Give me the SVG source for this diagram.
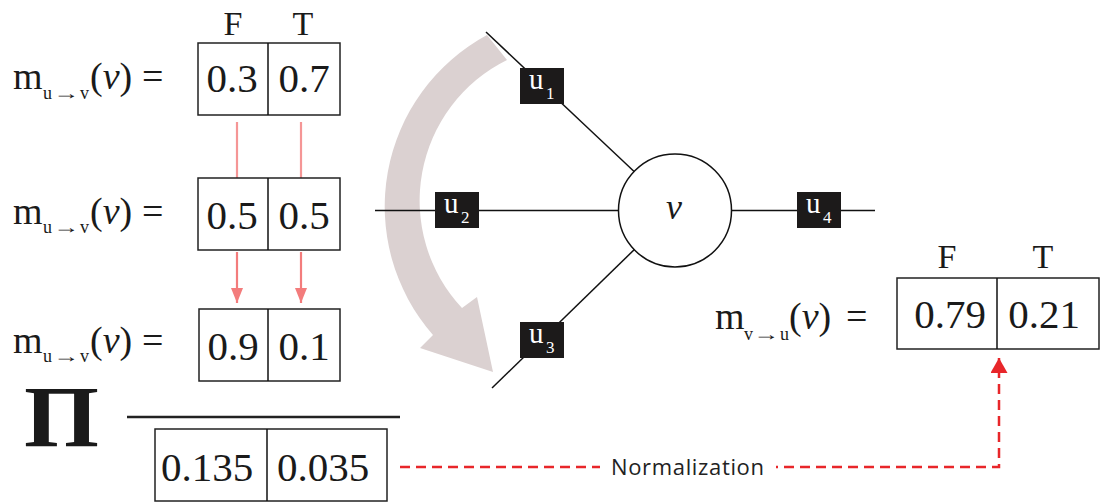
<svg xmlns="http://www.w3.org/2000/svg" width="1104" height="504" viewBox="0 0 1104 504">
<style>
.serif{font-family:"Liberation Serif","Times New Roman",serif;fill:#1a1a1a}
.lbl{font-size:38px}
.sub{font-size:18px}
.num{font-size:41px;text-anchor:middle}
.ft{font-size:34px;text-anchor:middle}
.box{fill:#fff;stroke:#222;stroke-width:1.5}
.edge{stroke:#111;stroke-width:1.5;fill:none}
.fac{fill:#1c1a1a}
.fl{font-family:"Liberation Serif","Times New Roman",serif;fill:#fff;font-size:29px}
.fls{font-size:17px}
.pink{stroke:#f37c7c;stroke-width:2.2;fill:none}
.dash{stroke:#e8262a;stroke-width:2.5;fill:none;stroke-dasharray:10 6}
</style>
<defs>
<marker id="ap" viewBox="0 0 15 12" refX="15" refY="6" markerWidth="15" markerHeight="12" markerUnits="userSpaceOnUse" orient="auto"><path d="M0,0 L15,6 L0,12 Z" fill="#f37c7c"/></marker>
<marker id="ar" viewBox="0 0 15 17" refX="15" refY="8.5" markerWidth="15" markerHeight="17" markerUnits="userSpaceOnUse" orient="auto"><path d="M0,0 L15,8.5 L0,17 Z" fill="#e8262a"/></marker>
</defs>
<rect width="1104" height="504" fill="#fff"/>

<!-- big curved grey arrow -->
<path id="flow-arrow" d="M487,35 A195,195 0 0 0 433,335 L420,348 L493,372 L477,297 L462,308 A157,157 0 0 1 507,60 Z" fill="#dbd1d1"/>

<g id="connectors">
<line class="edge" x1="375" y1="210.5" x2="875" y2="210.5"/>
<line class="edge" x1="486" y1="32" x2="675" y2="210"/>
<line class="edge" x1="492" y1="388" x2="675" y2="210"/>
<line class="pink" x1="237" y1="122" x2="237" y2="178" stroke-opacity="0.8"/>
<line class="pink" x1="301" y1="122" x2="301" y2="178" stroke-opacity="0.8"/>
<line class="pink" x1="237" y1="252" x2="237" y2="303" marker-end="url(#ap)"/>
<line class="pink" x1="301" y1="252" x2="301" y2="303" marker-end="url(#ap)"/>
<path class="dash" d="M400,467 H999 V358" marker-end="url(#ar)"/>
</g>

<g id="node-v">
<circle cx="675" cy="210.5" r="56.5" fill="#fff" stroke="#111" stroke-width="1.5"/>
<text class="serif" x="674" y="219" font-size="36" font-style="italic" text-anchor="middle">v</text>
</g>
<g id="node-u1"><rect class="fac" x="520" y="68" width="44" height="36"/><text class="fl" x="529" y="89">u<tspan class="fls" x="546" y="99">1</tspan></text></g>
<g id="node-u2"><rect class="fac" x="435" y="192" width="44" height="36"/><text class="fl" x="444" y="213">u<tspan class="fls" x="461" y="223">2</tspan></text></g>
<g id="node-u3"><rect class="fac" x="520" y="322" width="44" height="36"/><text class="fl" x="529" y="343">u<tspan class="fls" x="546" y="353">3</tspan></text></g>
<g id="node-u4"><rect class="fac" x="797" y="192" width="44" height="36"/><text class="fl" x="806" y="213">u<tspan class="fls" x="823" y="223">4</tspan></text></g>

<g id="msg1">
<text class="serif lbl" x="13" y="89">m<tspan class="sub" x="43" y="99">u</tspan><tspan class="sub" x="53" textLength="26" lengthAdjust="spacingAndGlyphs">→</tspan><tspan class="sub" x="80">v</tspan><tspan x="90" y="89">(</tspan><tspan font-style="italic">v</tspan>)<tspan x="142">=</tspan></text>
<text class="serif ft" x="233" y="35">F</text>
<text class="serif ft" x="303" y="35">T</text>
<rect class="box" x="198" y="43" width="142" height="72"/>
<line class="edge" x1="268" y1="43" x2="268" y2="115"/>
<text class="serif num" x="232" y="92">0.3</text>
<text class="serif num" x="304" y="92">0.7</text>
</g>

<g id="msg2">
<text class="serif lbl" x="13" y="224">m<tspan class="sub" x="43" y="233">u</tspan><tspan class="sub" x="53" textLength="26" lengthAdjust="spacingAndGlyphs">→</tspan><tspan class="sub" x="80">v</tspan><tspan x="90" y="224">(</tspan><tspan font-style="italic">v</tspan>)<tspan x="142">=</tspan></text>
<rect class="box" x="198" y="178" width="142" height="72"/>
<line class="edge" x1="268" y1="178" x2="268" y2="250"/>
<text class="serif num" x="232" y="229">0.5</text>
<text class="serif num" x="304" y="229">0.5</text>
</g>

<g id="msg3">
<text class="serif lbl" x="13" y="353">m<tspan class="sub" x="43" y="362">u</tspan><tspan class="sub" x="53" textLength="26" lengthAdjust="spacingAndGlyphs">→</tspan><tspan class="sub" x="80">v</tspan><tspan x="90" y="353">(</tspan><tspan font-style="italic">v</tspan>)<tspan x="142">=</tspan></text>
<rect class="box" x="199" y="309" width="141" height="72"/>
<line class="edge" x1="268" y1="309" x2="268" y2="381"/>
<text class="serif num" x="233" y="360">0.9</text>
<text class="serif num" x="304" y="360">0.1</text>
</g>

<g id="product">
<text class="serif" x="24" y="446" font-size="86" font-weight="bold" textLength="75" lengthAdjust="spacingAndGlyphs">Π</text>
<line x1="127" y1="417" x2="400" y2="417" stroke="#222" stroke-width="2.5"/>
<rect class="box" x="155" y="429" width="232" height="72"/>
<line class="edge" x1="267" y1="429" x2="267" y2="501"/>
<text class="serif num" x="207" y="481" font-size="43">0.135</text>
<text class="serif num" x="323" y="481" font-size="43">0.035</text>
</g>

<g id="norm-label">
<rect x="600" y="452" width="176" height="30" fill="#fff"/>
<text x="611" y="475" font-family="'Open Sans','Noto Sans',sans-serif" font-size="22" fill="#222" textLength="153">Normalization</text>
</g>

<g id="msg-out">
<text class="serif lbl" x="715" y="329">m<tspan class="sub" x="744" y="340">v</tspan><tspan class="sub" x="753" textLength="26" lengthAdjust="spacingAndGlyphs">→</tspan><tspan class="sub" x="780">u</tspan><tspan x="789" y="329">(</tspan><tspan font-style="italic">v</tspan>)<tspan x="846">=</tspan></text>
<text class="serif ft" x="947" y="268">F</text>
<text class="serif ft" x="1043" y="268">T</text>
<rect class="box" x="897" y="278" width="202" height="71"/>
<line class="edge" x1="997" y1="278" x2="997" y2="349"/>
<text class="serif num" x="950" y="328">0.79</text>
<text class="serif num" x="1044" y="328">0.21</text>
</g>
</svg>
